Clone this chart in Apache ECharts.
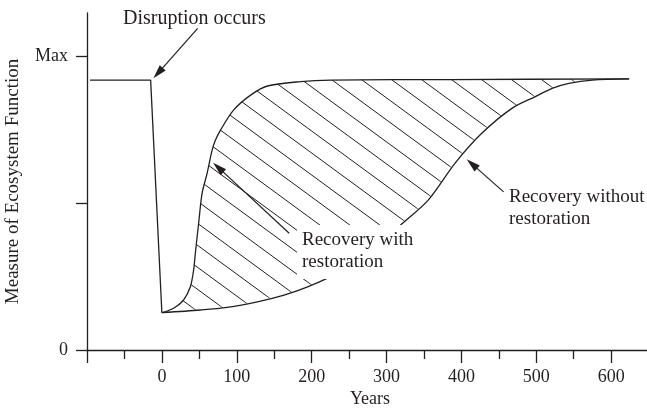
<!DOCTYPE html>
<html>
<head>
<meta charset="utf-8">
<script src="https://cdn.jsdelivr.net/npm/echarts@6/dist/echarts.min.js"></script>
<style>
  html, body { margin: 0; padding: 0; background: #fff; }
  #chart { width: 647px; height: 412px; }
</style>
</head>
<body>
<div id="chart"></div>
<script>
// level before the disruption, then the sudden drop
const baselineYears = [-96, -15, 0];
const baselineValues = [0.918, 0.918, 0.127];

// recovery with restoration (upper curve)
const withYears = [0, 15.6, 29, 38, 42.4, 44.7, 49.1, 53.7, 60.4, 67.1, 71.6, 78.3, 95.7, 118.5, 140.9, 185.6, 225.9, 387, 624];
const withValues = [0.127, 0.142, 0.170, 0.215, 0.272, 0.329, 0.431, 0.533, 0.601, 0.680, 0.714, 0.748, 0.816, 0.867, 0.898, 0.913, 0.918, 0.920, 0.922];

// recovery without restoration (lower curve)
const withoutYears = [0, 51.4, 87.2, 127.5, 163.2, 194.6, 223.6, 252.8, 286.3, 317.6, 355.7, 391.4, 427.2, 467.5, 498.8, 521.2, 543.6, 574.9, 624];
const withoutValues = [0.127, 0.136, 0.145, 0.164, 0.187, 0.215, 0.247, 0.286, 0.347, 0.422, 0.510, 0.635, 0.737, 0.822, 0.862, 0.890, 0.907, 0.918, 0.922];

// y axis ticks
const yTickValues = [0, 0.5, 1];
const yTickLabels = ['0', '', 'Max'];

// annotation arrows (tail -> head), in data units
const arrowTails = [[47.8, 1.094], [170, 0.397], [456.4, 0.538]];
const arrowHeads = [[-5.1, 0.942], [75.3, 0.621], [414.1, 0.633]];

const ink = '#231f20';
const font = 'Liberation Serif';

function zip(xs, ys) {
  return xs.map((x, i) => [x, ys[i]]);
}

// diagonal hatch tile
function makeHatch() {
  const c = document.createElement('canvas');
  c.width = 30;
  c.height = 22;
  const ctx = c.getContext('2d');
  ctx.strokeStyle = ink;
  ctx.lineWidth = 1;
  for (let k = -3; k <= 3; k++) {
    const x0 = 13 + 30 * k;
    ctx.beginPath();
    ctx.moveTo(x0 - 30, -22);
    ctx.lineTo(x0 + 60, 44);
    ctx.stroke();
  }
  return c;
}

function label(text, x, y, size, extra) {
  return {
    type: 'text',
    x: x,
    y: y,
    z: 100,
    silent: true,
    style: Object.assign({
      text: text,
      font: size + 'px "' + font + '"',
      fill: ink,
      align: 'left',
      verticalAlign: 'middle'
    }, extra || {})
  };
}

const chart = echarts.init(document.getElementById('chart'), null, { renderer: 'canvas' });

const option = {
  animation: false,
  backgroundColor: '#fff',
  grid: {
    left: 87,
    top: 13,
    width: 599,
    height: 337,
    containLabel: false,
    outerBoundsMode: 'none'
  },
  xAxis: {
    type: 'value',
    min: -100,
    max: 700,
    interval: 100,
    z: 10,
    axisLine: { show: true, onZero: false, lineStyle: { color: ink, width: 1.3 } },
    axisTick: { show: true, inside: false, length: 13, lineStyle: { color: ink, width: 1.3 } },
    minorTick: { show: true, splitNumber: 2, length: 9, lineStyle: { color: ink, width: 1.3 } },
    splitLine: { show: false },
    minorSplitLine: { show: false },
    axisLabel: {
      margin: 18,
      fontFamily: font,
      fontSize: 18,
      color: ink,
      formatter: v => (v < 0 || v > 600) ? '' : String(v)
    }
  },
  yAxis: {
    type: 'value',
    min: 0,
    max: 1.1463,
    z: 10,
    name: 'Measure of Ecosystem Function',
    nameLocation: 'middle',
    nameRotate: 90,
    nameGap: 64,
    nameTextStyle: { fontFamily: font, fontSize: 19, color: ink },
    axisLine: { show: true, onZero: false, lineStyle: { color: ink, width: 1.3 } },
    axisTick: { show: true, inside: false, length: 11, customValues: yTickValues, lineStyle: { color: ink, width: 1.3 } },
    splitLine: { show: false },
    axisLabel: {
      margin: 19,
      fontFamily: font,
      fontSize: 18,
      color: ink,
      customValues: yTickValues,
      formatter: v => yTickLabels[yTickValues.indexOf(v)] || ''
    }
  },
  graphic: [
    label('Disruption occurs', 123, 18.5, 20),
    // white box keeps the hatching off this label
    label('Recovery with\nrestoration', 297, 225, 19, {
      verticalAlign: 'top',
      lineHeight: 22,
      backgroundColor: '#fff',
      padding: [4, 4, 6, 5]
    }),
    label('Recovery without', 509, 197, 19),
    label('restoration', 509, 219, 19),
    label('Years', 370, 399, 18, { align: 'center' })
  ],
  series: [
    {
      name: 'before',
      type: 'line',
      data: zip(baselineYears, baselineValues),
      showSymbol: false,
      silent: true,
      lineStyle: { color: ink, width: 1.3 }
    },
    {
      // hatched band: fill under the upper curve, the lower curve's white fill covers the rest
      name: 'with restoration fill',
      type: 'line',
      data: zip(withYears, withValues),
      smooth: 0.3,
      showSymbol: false,
      silent: true,
      lineStyle: { width: 0, opacity: 0 },
      areaStyle: { color: { image: makeHatch(), repeat: 'repeat' }, opacity: 1 }
    },
    {
      name: 'without restoration',
      type: 'line',
      data: zip(withoutYears, withoutValues),
      smooth: 0.3,
      showSymbol: false,
      silent: true,
      lineStyle: { color: ink, width: 1.3 },
      areaStyle: { color: '#fff', opacity: 1, shadowColor: '#fff', shadowBlur: 4 }
    },
    {
      name: 'with restoration',
      type: 'line',
      data: zip(withYears, withValues),
      smooth: 0.3,
      showSymbol: false,
      silent: true,
      lineStyle: { color: ink, width: 1.3 }
    },
    {
      name: 'arrows',
      type: 'line',
      data: [],
      markLine: {
        silent: true,
        symbol: ['none', 'triangle'],
        symbolSize: [8, 14],
        label: { show: false },
        lineStyle: { color: ink, width: 1.2, type: 'solid' },
        data: arrowTails.map((t, i) => [{ coord: t }, { coord: arrowHeads[i] }])
      }
    }
  ]
};

chart.setOption(option);
</script>
</body>
</html>
